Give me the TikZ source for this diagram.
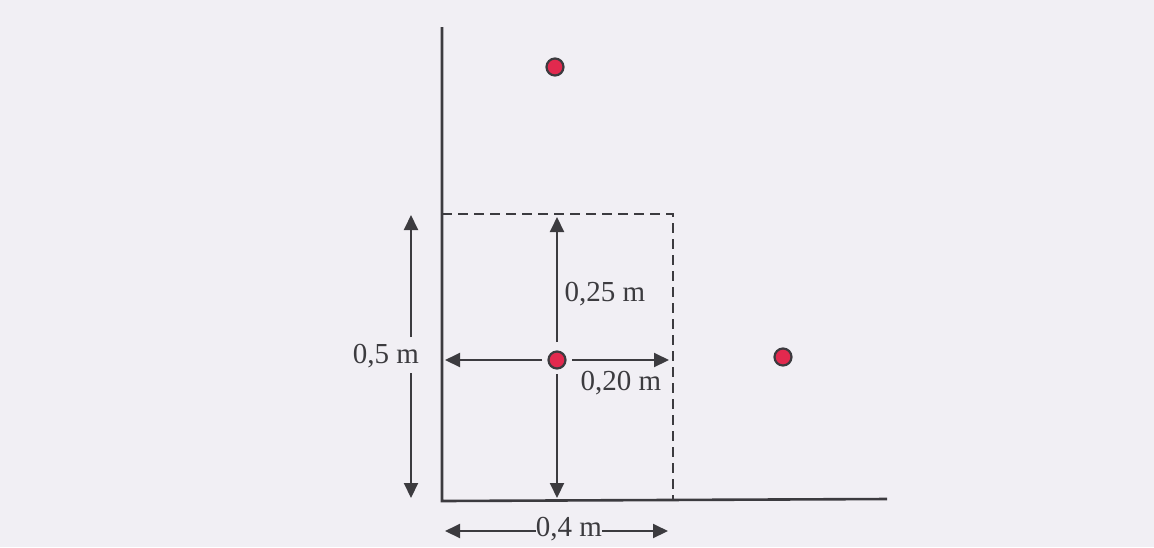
\documentclass[tikz,border=0pt]{standalone}
\usepackage{fontspec}
\setmainfont{Liberation Serif}
\usetikzlibrary{arrows.meta}
\definecolor{bgc}{HTML}{F1EFF4}
\definecolor{ink}{HTML}{3C3B3F}
\definecolor{dotred}{HTML}{E2294E}
\tikzset{
  axisline/.style={draw=ink, line width=1.3pt},
  dimarrow/.style={draw=ink, line width=1pt, -{Triangle[length=7.5pt,width=7pt]}},
  dashbox/.style={draw=ink, line width=1pt, dash pattern=on 5pt off 3pt},
  plant/.style={circle, draw=ink, line width=1.1pt, fill=dotred, minimum size=8.5pt, inner sep=0pt},
  lbl/.style={font=\fontsize{14.5}{16}\selectfont, text=ink, inner sep=1pt}
}
\begin{document}
\begin{tikzpicture}[x=0.5pt,y=-0.5pt]
\fill[bgc] (0,0) rectangle (1154,547);
\useasboundingbox (0,0) rectangle (1154,547);
% axes
\coordinate (top) at (442,27);
\coordinate (orig) at (442,501);
\coordinate (xend) at (887,499);
\draw[axisline] (top) -- (orig) -- (xend);
% dashed box
\coordinate (bl) at (442,214);
\coordinate (tr) at (673,214);
\coordinate (br) at (673,500);
\draw[dashbox] (bl) -- (tr) -- (br);
% plants
\node[plant] (c) at (557,360) {};
\node[plant] (p1) at (555,67) {};
\node[plant] (p2) at (783,357) {};
% center arrows
\coordinate (cu) at (557,342);
\coordinate (cut) at (557,217);
\coordinate (cd) at (557,374);
\coordinate (cdt) at (557,498);
\coordinate (cl) at (542,360);
\coordinate (clt) at (445,360);
\coordinate (cr) at (572,360);
\coordinate (crt) at (669,360);
\draw[dimarrow] (cu) -- (cut);
\draw[dimarrow] (cd) -- (cdt);
\draw[dimarrow] (cl) -- (clt);
\draw[dimarrow] (cr) -- (crt);
% left dimension
\node[lbl] (h) at (386,356) {0,5 m};
\coordinate (lu) at (411,337);
\coordinate (lut) at (411,215);
\coordinate (ld) at (411,373);
\coordinate (ldt) at (411,498);
\draw[dimarrow] (lu) -- (lut);
\draw[dimarrow] (ld) -- (ldt);
% labels
\node[lbl] (a) at (605,294) {0,25 m};
\node[lbl] (b) at (621,383) {0,20 m};
% bottom dimension
\node[lbl, inner sep=0pt] (w) at (569,529) {0,4 m};
\coordinate (wl) at (445,531);
\coordinate (wr) at (668,531);
\draw[dimarrow] (w.west |- wl) -- (wl);
\draw[dimarrow] (w.east |- wr) -- (wr);
\end{tikzpicture}
\end{document}
